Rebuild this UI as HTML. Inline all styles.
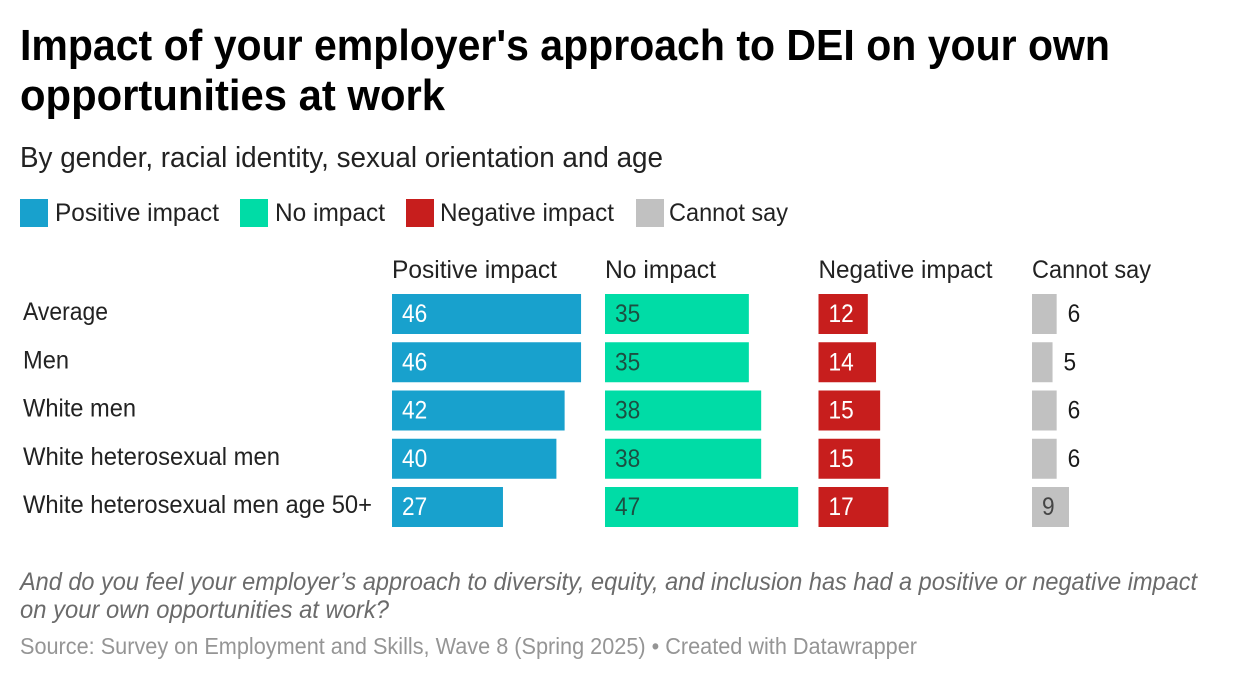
<!DOCTYPE html>
<html lang="en">
<head>
<meta charset="utf-8">
<title>Impact of your employer's approach to DEI</title>
<style>
html,body{margin:0;padding:0;background:#fff;width:1247px;height:680px;overflow:hidden}
svg{display:block}
text{font-family:"Liberation Sans",sans-serif}
</style>
</head>
<body>
<svg id="chart" xmlns="http://www.w3.org/2000/svg" width="1247" height="680" viewBox="0 0 1247 680">
  <rect x="0" y="0" width="1247" height="680" fill="#ffffff"/>
  <text x="20" y="60" font-size="44" font-weight="700" fill="#000" textLength="1090" lengthAdjust="spacingAndGlyphs">Impact of your employer's approach to DEI on your own</text>
  <text x="20" y="110" font-size="44" font-weight="700" fill="#000" textLength="425" lengthAdjust="spacingAndGlyphs">opportunities at work</text>
  <text x="20" y="167" font-size="28.5" fill="#222" textLength="643" lengthAdjust="spacingAndGlyphs">By gender, racial identity, sexual orientation and age</text>

  <g>
    <rect x="20" y="199" width="28" height="28" fill="#18a1cd"/>
    <text x="55" y="221" font-size="25" fill="#222" textLength="164" lengthAdjust="spacingAndGlyphs">Positive impact</text>
    <rect x="240" y="199" width="28" height="28" fill="#00dca6"/>
    <text x="275" y="221" font-size="25" fill="#222" textLength="110" lengthAdjust="spacingAndGlyphs">No impact</text>
    <rect x="406" y="199" width="28" height="28" fill="#c71e1d"/>
    <text x="440" y="221" font-size="25" fill="#222" textLength="174" lengthAdjust="spacingAndGlyphs">Negative impact</text>
    <rect x="636" y="199" width="28" height="28" fill="#c1c1c1"/>
    <text x="669" y="221" font-size="25" fill="#222" textLength="119" lengthAdjust="spacingAndGlyphs">Cannot say</text>
  </g>

  <g id="plot"></g>

  <text x="20" y="590" font-size="25" font-style="italic" fill="#6b6b6b" textLength="1177" lengthAdjust="spacingAndGlyphs">And do you feel your employer’s approach to diversity, equity, and inclusion has had a positive or negative impact</text>
  <text x="20" y="618" font-size="25" font-style="italic" fill="#6b6b6b" textLength="369" lengthAdjust="spacingAndGlyphs">on your own opportunities at work?</text>
  <text x="20" y="654" font-size="23.5" fill="#959595" textLength="897" lengthAdjust="spacingAndGlyphs">Source: Survey on Employment and Skills, Wave 8 (Spring 2025) • Created with Datawrapper</text>
</svg>
<script>
const categories = ["Average", "Men", "White men", "White heterosexual men", "White heterosexual men age 50+"];
const seriesNames = ["Positive impact", "No impact", "Negative impact", "Cannot say"];
const positiveValues = [46, 46, 42, 40, 27];
const noImpactValues = [35, 35, 38, 38, 47];
const negativeValues = [12, 14, 15, 15, 17];
const cannotSayValues = [6, 5, 6, 6, 9];

const NS = "http://www.w3.org/2000/svg";
const plot = document.getElementById("plot");
const allSeries = [positiveValues, noImpactValues, negativeValues, cannotSayValues];
const panelLeft = [392, 605, 818.5, 1032];
const barColors = ["#18a1cd", "#00dca6", "#c71e1d", "#c1c1c1"];
const insideColors = ["#ffffff", "#1c4f42", "#ffffff", "#454545"];
const headerWidths = [165, 111, 174, 119];
const categoryWidths = [85, 46, 113, 257, 349];
const pxPerUnit = 4.11;
const rowTop = 294;
const rowStep = 48.25;
const barHeight = 40;

function xLength(value) { return value * pxPerUnit; }
function yTop(rowIndex) { return rowTop + rowIndex * rowStep; }
function slug(s) { return s.toLowerCase().replace(/[^a-z0-9]+/g, "-"); }

function makeText(content, x, y, size, fill, width) {
  const t = document.createElementNS(NS, "text");
  t.setAttribute("x", x);
  t.setAttribute("y", y);
  t.setAttribute("font-size", size);
  t.setAttribute("fill", fill);
  if (width) {
    t.setAttribute("textLength", width);
    t.setAttribute("lengthAdjust", "spacingAndGlyphs");
  }
  t.textContent = content;
  return t;
}

seriesNames.forEach(function (name, s) {
  const header = makeText(name, panelLeft[s], 278, 25, "#222222", headerWidths[s]);
  
  
  plot.appendChild(header);
});

categories.forEach(function (cat, r) {
  const label = makeText(cat, 23, yTop(r) + 26, 25, "#222222", categoryWidths[r]);
  
  
  plot.appendChild(label);

  allSeries.forEach(function (values, s) {
    const value = values[r];
    const w = xLength(value);
    const bar = document.createElementNS(NS, "rect");
    bar.setAttribute("x", panelLeft[s]);
    bar.setAttribute("y", yTop(r));
    bar.setAttribute("width", w);
    bar.setAttribute("height", barHeight);
    bar.setAttribute("fill", barColors[s]);
    
    
    plot.appendChild(bar);

    const str = String(value);
    const digitWidth = str.length * 12.6;
    const outside = w < digitWidth + 16;
    const tx = outside ? panelLeft[s] + w + 11 : panelLeft[s] + 10;
    const fill = outside ? "#1a1a1a" : insideColors[s];
    const valueText = makeText(str, tx, yTop(r) + 28, 25, fill, digitWidth);
    
    
    plot.appendChild(valueText);
  });
});
</script>
</body>
</html>
